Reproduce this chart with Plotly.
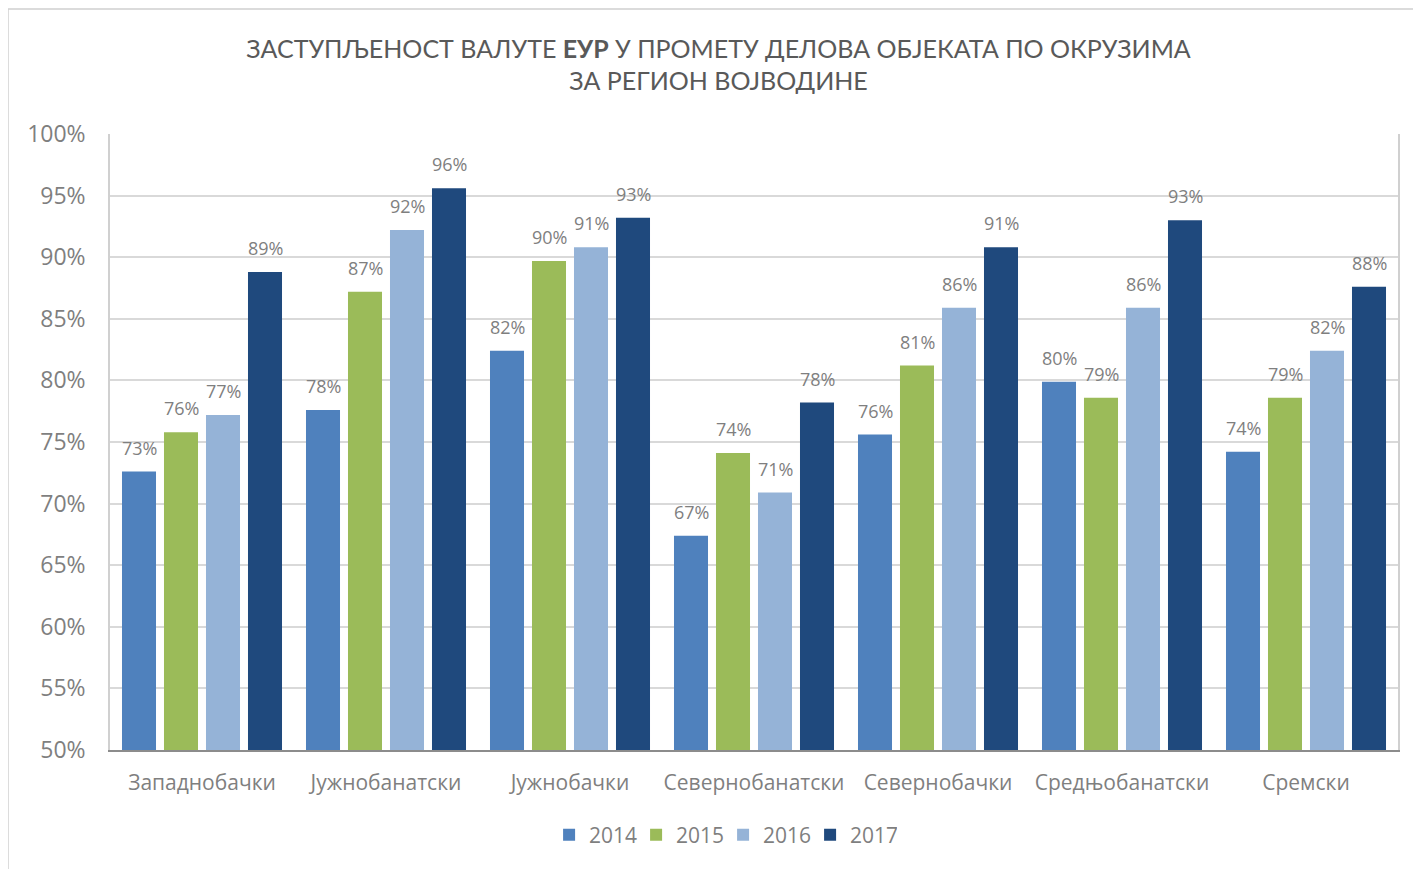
import plotly.graph_objects as go

categories = ["Западнобачки", "Јужнобанатски", "Јужнобачки", "Севернобанатски",
              "Севернобачки", "Средњобанатски", "Сремски"]
years = ["2014", "2015", "2016", "2017"]
v2014 = [72.6, 77.6, 82.4, 67.4, 75.6, 79.9, 74.2]
v2015 = [75.8, 87.2, 89.7, 74.1, 81.2, 78.6, 78.6]
v2016 = [77.2, 92.2, 90.8, 70.9, 85.9, 85.9, 82.4]
v2017 = [88.8, 95.6, 93.2, 78.2, 90.8, 93.0, 87.6]
series = [v2014, v2015, v2016, v2017]
colors = ["#4F81BD", "#9BBB59", "#95B3D7", "#1F497D"]
yticks = [50, 55, 60, 65, 70, 75, 80, 85, 90, 95, 100]
yticktext = [f"{t}%" for t in yticks]

FONT = "Open Sans"
GRAY = "#7F7F7F"
SLOT_PX = 42  # pixel width of one bar slot within a group

fig = go.Figure()
annotations = []
for i, (name, vals, col) in enumerate(zip(years, series, colors)):
    fig.add_trace(go.Bar(
        x=categories, y=vals, name=name,
        marker=dict(color=col, line=dict(width=0)),
    ))
    for cat, v in zip(categories, vals):
        annotations.append(dict(
            x=cat, y=v, xref="x", yref="y", text=f"{v:.0f}%", showarrow=False,
            xshift=(i - 1.5) * SLOT_PX, yshift=10, yanchor="bottom",
            font=dict(size=18, color=GRAY, family=FONT),
        ))

fig.update_layout(
    width=1421, height=869,
    paper_bgcolor="white", plot_bgcolor="white",
    margin=dict(l=102, r=31, t=126, b=127),
    barmode="group", bargap=0.087, bargroupgap=0.19,
    title=dict(
        text="ЗАСТУПЉЕНОСТ ВАЛУТЕ <b>ЕУР</b> У ПРОМЕТУ ДЕЛОВА ОБЈЕКАТА ПО ОКРУЗИМА<br>ЗА РЕГИОН ВОЈВОДИНЕ",
        x=0.5, xanchor="center", y=0.943, yanchor="top",
        font=dict(family="Lato", size=25, color="#595959"),
    ),
    font=dict(family=FONT, color=GRAY),
    legend=dict(orientation="h", x=0.476, xanchor="center", y=-0.105, yanchor="top",
                font=dict(size=21, color=GRAY), itemwidth=30, traceorder="normal",
                entrywidth=42, entrywidthmode="pixels"),
    xaxis=dict(tickfont=dict(size=21, color=GRAY), showline=True, linecolor="#8C8C8C",
               linewidth=2, mirror=False, ticks="", showgrid=False, ticklabelstandoff=13),
    yaxis=dict(range=[50, 100], tickmode="array", tickvals=yticks, ticktext=yticktext,
               tickfont=dict(size=23, color=GRAY), showgrid=True, gridcolor="#D9D9D9",
               gridwidth=1.5, zeroline=False, showline=True, linecolor="#D0D0D0",
               linewidth=1.5, mirror=True, ticklabelstandoff=18),
    annotations=annotations,
    shapes=[dict(type="rect", xref="paper", yref="paper",
                 x0=-0.0792, x1=1.2, y0=-0.3, y1=1.203,
                 line=dict(color="#D0D0D0", width=1.5), layer="below")],
)
fig.write_html("out.html")
